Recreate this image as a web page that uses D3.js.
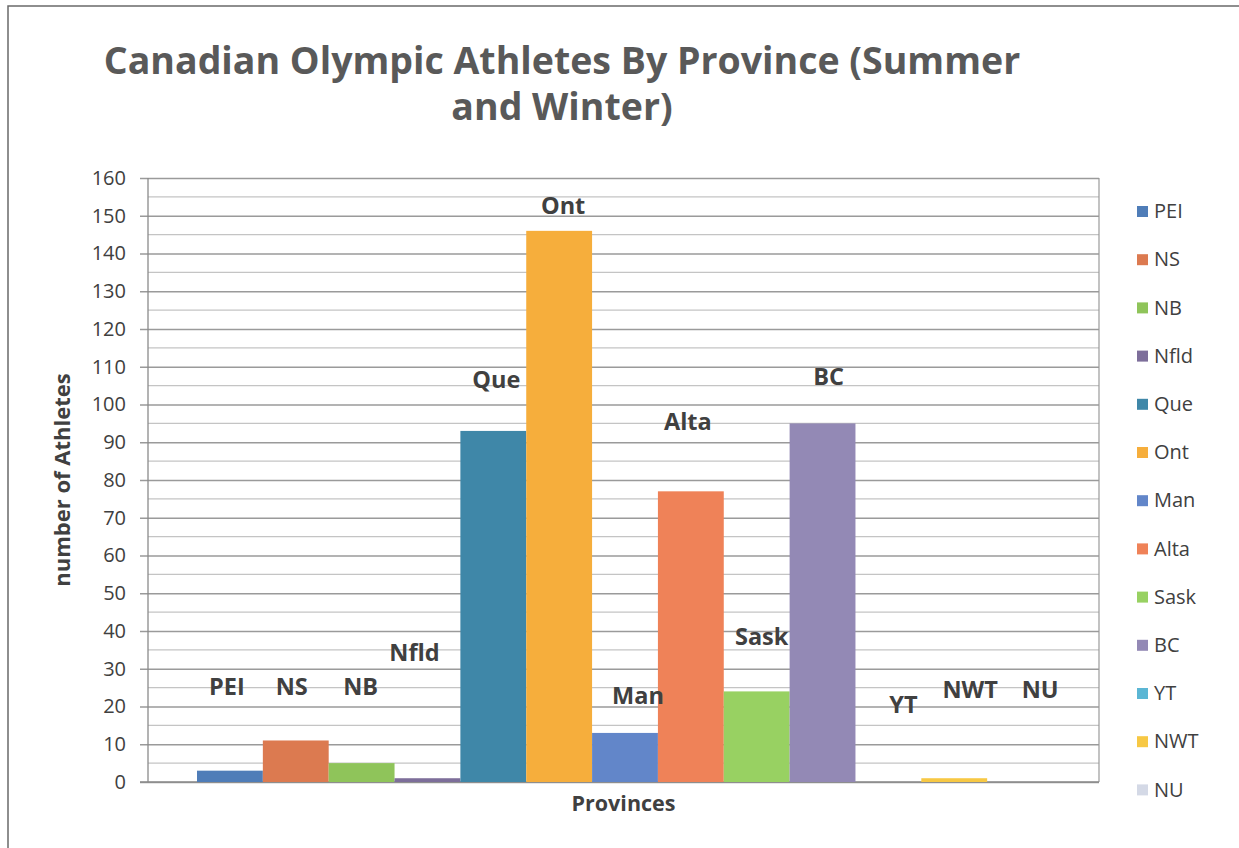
<!DOCTYPE html>
<html>
<head>
<meta charset="utf-8">
<script src="https://cdn.jsdelivr.net/npm/d3@7/dist/d3.min.js"></script>
<style>
  html, body { margin: 0; padding: 0; background: #fff; overflow: hidden; }
  svg { display: block; }
  text { font-family: "Open Sans", "Liberation Sans", sans-serif; }
</style>
</head>
<body>
<svg id="chart" width="1239" height="848"></svg>
<script>
// Athletes per province / territory
const provinces = ["PEI", "NS", "NB", "Nfld", "Que", "Ont", "Man", "Alta", "Sask", "BC", "YT", "NWT", "NU"];
const athletes  = [3, 11, 5, 1, 93, 146, 13, 77, 24, 95, 0, 1, 0];
const colors    = ["#4f7db8", "#dc7a50", "#8fc45a", "#7d6e9a", "#3f87a8", "#f6ae3c", "#6286c9",
                   "#ef8258", "#98d162", "#9389b5", "#5bb6d4", "#f7c844", "#d4d9e6"];
const yTicks    = [0, 10, 20, 30, 40, 50, 60, 70, 80, 90, 100, 110, 120, 130, 140, 150, 160];

// Hand-placed name labels: vertical centre (in athlete units) and sideways nudge (px)
const labelLevel = [25.2, 25.4, 25.4, 34.4, 106.5, 152.6, 22.9, 95.4, 38.5, 107.5, 20.5, 24.5, 24.5];
const labelNudge = [-3, -4, -1, -13, 3, 4, 13, -3, 5, 6, 15, 16, 20];

const svg = d3.select("#chart");
const ink = "#404040";

// frame
svg.append("path")
  .attr("d", "M8,848 L8,6 L1239,6")
  .attr("fill", "none").attr("stroke", "#6a6a6a").attr("stroke-width", 1.5);

const plot = { left: 148, right: 1099, top: 178, bottom: 782 };

const y = d3.scaleLinear().domain([0, 160]).range([plot.bottom, plot.top]);
const x = d3.scaleBand().domain(provinces)
  .range([plot.left + 49, plot.right - 46]).paddingInner(0).paddingOuter(0);

// minor gridlines every 5
const minor = d3.range(5, 160, 10);
svg.append("g").selectAll("line").data(minor).join("line")
  .attr("x1", plot.left).attr("x2", plot.right)
  .attr("y1", d => y(d)).attr("y2", d => y(d))
  .attr("stroke", "#c4c4c4").attr("stroke-width", 1.2);

// major gridlines with ticks
const yAxis = d3.axisLeft(y).tickValues(yTicks).tickSize(plot.right - plot.left + 8).tickPadding(14);
const gy = svg.append("g")
  .attr("transform", `translate(${plot.right},0)`)
  .call(yAxis);
gy.select(".domain").remove();
gy.selectAll(".tick line").attr("stroke", "#9a9a9a").attr("stroke-width", 1.3);
gy.selectAll(".tick text")
  .attr("fill", ink).attr("font-size", 20).attr("font-family", "\"Open Sans\", sans-serif");

// axis lines
svg.append("line").attr("x1", plot.left).attr("x2", plot.left)
  .attr("y1", plot.top).attr("y2", plot.bottom)
  .attr("stroke", "#8a8a8a").attr("stroke-width", 1.3);
svg.append("line").attr("x1", plot.right).attr("x2", plot.right)
  .attr("y1", plot.top).attr("y2", plot.bottom)
  .attr("stroke", "#9a9a9a").attr("stroke-width", 1.2);
svg.append("line").attr("x1", plot.left - 8).attr("x2", plot.right)
  .attr("y1", plot.bottom).attr("y2", plot.bottom)
  .attr("stroke", "#8a8a8a").attr("stroke-width", 1.3);

// bars
svg.append("g").selectAll("rect").data(provinces).join("rect")
  .attr("x", d => x(d))
  .attr("width", x.bandwidth())
  .attr("y", (d, i) => y(athletes[i]))
  .attr("height", (d, i) => y(0) - y(athletes[i]))
  .attr("fill", (d, i) => colors[i]);

// name labels
svg.append("g").selectAll("text").data(provinces).join("text")
  .attr("x", (d, i) => x(d) + x.bandwidth() / 2 + labelNudge[i])
  .attr("y", (d, i) => y(labelLevel[i]))
  .attr("dy", "0.36em")
  .attr("text-anchor", "middle")
  .attr("font-size", 23.5).attr("font-weight", 700)
  .attr("fill", ink)
  .text(d => d);

// title
const title = svg.append("text")
  .attr("text-anchor", "middle")
  .attr("font-size", 37.5).attr("font-weight", 700)
  .attr("fill", "#595959");
title.append("tspan").attr("x", 562).attr("y", 74).text("Canadian Olympic Athletes By Province (Summer");
title.append("tspan").attr("x", 562).attr("y", 120).text("and Winter)");

// axis titles
svg.append("text")
  .attr("transform", `translate(62,480) rotate(-90)`)
  .attr("text-anchor", "middle").attr("dy", "0.36em")
  .attr("font-size", 22).attr("font-weight", 700).attr("fill", ink)
  .text("number of Athletes");

svg.append("text")
  .attr("x", (plot.left + plot.right) / 2).attr("y", 811)
  .attr("text-anchor", "middle")
  .attr("font-size", 21.5).attr("font-weight", 700).attr("fill", ink)
  .text("Provinces");

// legend
const legend = svg.append("g").selectAll("g").data(provinces).join("g")
  .attr("transform", (d, i) => `translate(1137,${211 + i * 48.2})`);
legend.append("rect")
  .attr("x", 0).attr("y", -5).attr("width", 11).attr("height", 11)
  .attr("fill", (d, i) => colors[i]);
legend.append("text")
  .attr("x", 17).attr("y", 0).attr("dy", "0.36em")
  .attr("font-size", 20).attr("fill", ink)
  .text(d => d);
</script>
</body>
</html>
